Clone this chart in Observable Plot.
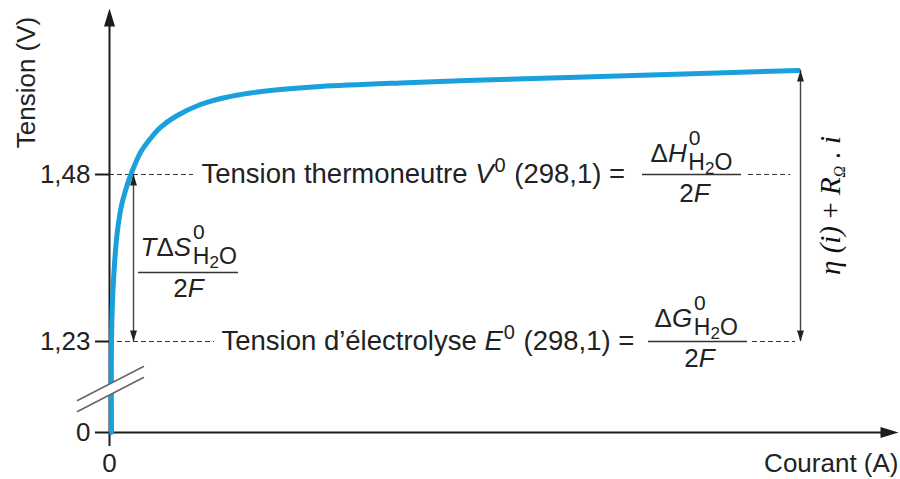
<!DOCTYPE html>
<html>
<head>
<meta charset="utf-8">
<script src="https://cdn.jsdelivr.net/npm/d3@7"></script>
<script src="https://cdn.jsdelivr.net/npm/@observablehq/plot@0.6"></script>
<style>
  html, body { margin: 0; padding: 0; background: #fff; }
</style>
</head>
<body>
<script>
// ---- Data (current in arbitrary units, tension in volts) ----
const current = [2, 2, 3, 4, 6, 8, 12, 16, 21, 31, 41, 51, 66, 91, 116, 141, 171, 211, 291, 391, 491, 591, 689];
const tension = [0, 1.23, 1.2914, 1.3213, 1.3662, 1.3962, 1.4336, 1.456, 1.4785, 1.5129, 1.5339, 1.5504, 1.5668, 1.5848, 1.5953, 1.6020, 1.6072, 1.6117, 1.6170, 1.6222, 1.6267, 1.6312, 1.6357];

const yTicks = [0, 1.23, 1.48];
const yTickLabels = ["0", "1,23", "1,48"];
const xTicks = [0];
const xTickLabels = ["0"];

const E0 = 1.23;   // tension d'électrolyse
const V0 = 1.48;   // tension thermoneutre
const Vend = 1.6357;

const yLabel = "Tension (V)";
const xLabel = "Courant (A)";

const curve = current.map((c, i) => ({c, v: tension[i]}));

// axis break slashes (data units)
const breakTop = [{c: -32, v: 0.4325}, {c: 34, v: 0.892}];
const breakBot = [{c: -32, v: 0.2839}, {c: 34, v: 0.7434}];
const breakMid = [{c: -32, v: 0.3581}, {c: 34, v: 0.8177}];

// ---- Annotation layout ----
const dashes = [
  {x1: 0, x2: 84, y: V0}, {x1: 639, x2: 681, y: V0},
  {x1: 0, x2: 105, y: E0}, {x1: 643, x2: 686, y: E0}
];
const fracBars = [
  {x1: 533, x2: 632, y: V0},
  {x1: 539, x2: 638, y: E0},
  {x1: 29, x2: 129, y: 1.3333}
];
const lineTexts = [
  {x: 92, y: V0, key: "§L1"},
  {x: 112, y: E0, key: "§L2"}
];
const numerators = [
  {x: 541, y: 1.4994, key: "§NH"},
  {x: 545, y: 1.2524, key: "§NG"},
  {x: 31, y: 1.3587, key: "§NS"}
];
const denominators = [
  {x: 585, y: 1.4381, key: "§D"},
  {x: 590, y: 0.8786, key: "§D"},
  {x: 79, y: 1.2959, key: "§D"}
];
const sideLabel = [{x: 721, y: 1.4336, key: "§ETA"}];

const sub = [{t: "H", size: 23, dy: 25, dx: -12}, {t: "2", size: 17, dy: 4}, {t: "O", size: 23, dy: -4}];
const rich = {
  "§L1": [{t: "Tension thermoneutre "}, {t: "V", italic: true}, {t: "0", size: 20, dy: -11, dx: 1}, {t: " (298,1) =", dy: 11, dx: 1}],
  "§L2": [{t: "Tension d’électrolyse "}, {t: "E", italic: true}, {t: "0", size: 20, dy: -11, dx: 1}, {t: " (298,1) =", dy: 11, dx: 1}],
  "§NH": [{t: "Δ"}, {t: "H", italic: true}, {t: "0", size: 21, dy: -17, dx: 2}, ...sub],
  "§NG": [{t: "Δ"}, {t: "G", italic: true}, {t: "0", size: 21, dy: -17, dx: 2}, ...sub],
  "§NS": [{t: "T", italic: true}, {t: "Δ"}, {t: "S", italic: true}, {t: "0", size: 21, dy: -17, dx: 2}, ...sub],
  "§D": [{t: "2"}, {t: "F", italic: true}],
  "§ETA": [{t: "η ("}, {t: "i"}, {t: ") "}, {t: "+ ", italic: false}, {t: "R"}, {t: "Ω", size: 16, dy: 5}, {t: " . ", dy: -5}, {t: "i"}]
};

// arrowhead symbols (tip at origin, pointing up)
function head(L, w) {
  return {draw(ctx) { ctx.moveTo(0, 0); ctx.lineTo(-w / 2, L); ctx.lineTo(w / 2, L); ctx.closePath(); }};
}
const bigHead = head(18, 11);
const smallHead = head(11, 7);

const axisHeads = [{c: 0, v: 1.7285, r: 0}, {c: 789, v: 0, r: 90}];
const dimHeads = [
  {c: 24, v: V0, r: 0}, {c: 24, v: E0, r: 180},
  {c: 691, v: Vend, r: 0}, {c: 691, v: E0, r: 180}
];

const blue = "#1aa0dc";
const ink = "#1c1c1c";

const plot = Plot.plot({
  width: 900,
  height: 479,
  marginLeft: 109,
  marginRight: 100,
  marginTop: 0,
  marginBottom: 47,
  style: {fontFamily: "'Liberation Sans', Arial, sans-serif", fontSize: "26px", color: "#222", background: "#fff"},
  x: {domain: [0, 691], range: [109, 800]},
  y: {type: "linear", domain: [0, 1.23, 1.48, 1.75], range: [432, 341, 174, 174 - 0.27 * 668]},
  marks: [
    // dashed reference lines
    Plot.ruleY(dashes, {x1: "x1", x2: "x2", y: "y", stroke: "#333", strokeWidth: 1.2, strokeDasharray: "5,3"}),
    // axes lines
    Plot.ruleX([0], {y1: 0, y2: 1.7075, stroke: ink, strokeWidth: 2}),
    Plot.ruleY([0], {x1: 0, x2: 775, stroke: ink, strokeWidth: 2}),
    Plot.dot(axisHeads, {x: "c", y: "v", rotate: "r", symbol: bigHead, fill: ink, stroke: null}),
    Plot.axisY({ticks: yTicks, tickFormat: d => yTickLabels[yTicks.indexOf(d)], tickSize: 14, tickPadding: 5, strokeWidth: 2, stroke: ink, label: null}),
    Plot.axisX({ticks: xTicks, tickFormat: d => xTickLabels[xTicks.indexOf(d)], tickSize: 14, tickPadding: 7, strokeWidth: 2, stroke: ink, label: null}),
    // curve
    Plot.line(curve, {x: "c", y: "v", stroke: blue, strokeWidth: 5, curve: "catmull-rom"}),
    // axis break
    Plot.line(breakMid, {x: "c", y: "v", stroke: "#fff", strokeWidth: 10}),
    Plot.line(breakTop, {x: "c", y: "v", stroke: "#666", strokeWidth: 1.5}),
    Plot.line(breakBot, {x: "c", y: "v", stroke: "#666", strokeWidth: 1.5}),
    // dimension arrows
    Plot.ruleX([24], {y1: V0, y2: E0, stroke: "#444", strokeWidth: 1.4}),
    Plot.ruleX([691], {y1: Vend, y2: E0, stroke: "#444", strokeWidth: 1.4}),
    Plot.dot(dimHeads, {x: "c", y: "v", rotate: "r", symbol: smallHead, fill: "#222", stroke: null}),
    // fraction bars
    Plot.ruleY(fracBars, {x1: "x1", x2: "x2", y: "y", stroke: "#333", strokeWidth: 1.5}),
    // texts
    Plot.text(lineTexts, {x: "x", y: "y", text: "key", textAnchor: "start", lineAnchor: "middle", fontSize: 27.5, fill: "#222"}),
    Plot.text(numerators, {x: "x", y: "y", text: "key", textAnchor: "start", lineAnchor: "bottom", fontSize: 26, fill: "#222"}),
    Plot.text(denominators, {x: "x", y: "y", text: "key", textAnchor: "middle", lineAnchor: "bottom", fontSize: 26, fill: "#222"}),
    Plot.text(sideLabel, {x: "x", y: "y", text: "key", textAnchor: "middle", lineAnchor: "middle", rotate: -90, fontSize: 29, fontStyle: "italic", fontFamily: "'Liberation Serif', 'Times New Roman', serif", fill: "#111"}),
    // axis titles
    Plot.text([yLabel], {frameAnchor: "top-left", dx: -83, dy: 82, rotate: -90, textAnchor: "middle", lineAnchor: "middle", fontSize: 26, fill: "#222"}),
    Plot.text([xLabel], {frameAnchor: "bottom-right", dx: 98, dy: 31, textAnchor: "end", lineAnchor: "middle", fontSize: 26, fill: "#222"})
  ]
});

// rich text (italics, super/subscripts) as tspans
const NS = "http://www.w3.org/2000/svg";
plot.querySelectorAll("text").forEach(el => {
  const key = el.textContent;
  if (!(key in rich)) return;
  el.textContent = "";
  for (const p of rich[key]) {
    const ts = document.createElementNS(NS, "tspan");
    ts.textContent = p.t;
    if (p.size) ts.setAttribute("font-size", p.size);
    if (p.italic === true) ts.setAttribute("font-style", "italic");
    if (p.italic === false) ts.setAttribute("font-style", "normal");
    if (p.dy) ts.setAttribute("dy", p.dy);
    if (p.dx) ts.setAttribute("dx", p.dx);
    el.appendChild(ts);
  }
});

document.body.appendChild(plot);
</script>
</body>
</html>
